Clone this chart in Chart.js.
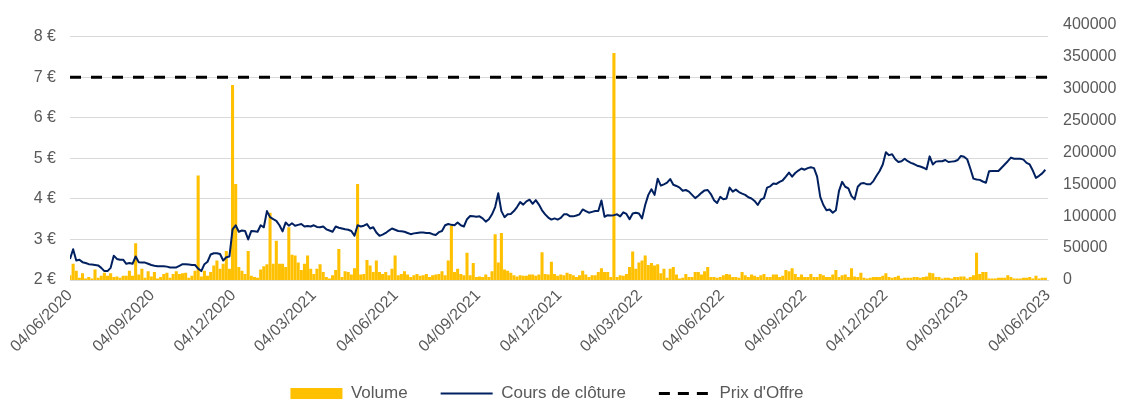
<!DOCTYPE html>
<html><head><meta charset="utf-8">
<script src="https://cdn.jsdelivr.net/npm/chart.js@4.4.0/dist/chart.umd.min.js"></script>
<style>html,body{margin:0;padding:0;background:#fff;overflow:hidden}#wrap{width:1126px;height:412px;position:relative}</style>
</head><body><div id="wrap"><canvas id="c" width="1126" height="412"></canvas></div>
<script>
const START_LABEL = '04/06/2020';
const STEP_DAYS = 3.5;
const tickLabels = ['04/06/2020','04/09/2020','04/12/2020','04/03/2021','04/06/2021','04/09/2021','04/12/2021','04/03/2022','04/06/2022','04/09/2022','04/12/2022','04/03/2023','04/06/2023'];
const priceTicks = [2,3,4,5,6,7,8];
const volumeTicks = [0,50000,100000,150000,200000,250000,300000,350000,400000];
const offerPrice = 7;
const closePrices = [
2.52,2.76,2.48,2.50,2.44,2.42,2.39,2.38,2.37,2.36,
2.30,2.22,2.22,2.30,2.60,2.52,2.50,2.50,2.40,2.42,
2.40,2.58,2.44,2.43,2.43,2.40,2.37,2.35,2.34,2.34,
2.34,2.33,2.31,2.31,2.31,2.35,2.39,2.39,2.38,2.37,
2.37,2.28,2.22,2.39,2.45,2.63,2.66,2.66,2.64,2.48,
2.56,2.58,3.25,3.35,3.19,3.22,3.21,3.00,3.21,3.20,
3.19,3.35,3.30,3.70,3.55,3.50,3.46,3.35,3.20,3.42,
3.34,3.40,3.34,3.36,3.38,3.32,3.33,3.32,3.35,3.31,
3.30,3.32,3.25,3.22,3.19,3.32,3.29,3.27,3.25,3.24,
3.21,3.09,3.35,3.32,3.34,3.38,3.27,3.30,3.17,3.09,
3.12,3.16,3.22,3.27,3.24,3.21,3.20,3.19,3.16,3.13,
3.15,3.16,3.17,3.17,3.16,3.16,3.13,3.11,3.18,3.21,
3.35,3.38,3.36,3.35,3.42,3.35,3.32,3.50,3.58,3.57,
3.56,3.57,3.52,3.44,3.50,3.62,3.80,4.14,3.70,3.55,
3.62,3.63,3.70,3.80,3.92,3.86,3.94,3.98,3.88,3.97,
3.86,3.72,3.62,3.54,3.49,3.52,3.49,3.53,3.62,3.62,
3.57,3.57,3.59,3.62,3.74,3.70,3.66,3.68,3.70,3.70,
3.96,3.56,3.60,3.59,3.60,3.62,3.57,3.67,3.63,3.50,
3.64,3.66,3.64,3.52,3.85,4.10,4.24,4.10,4.50,4.33,
4.36,4.40,4.49,4.35,4.32,4.28,4.20,4.22,4.18,4.10,
4.02,4.08,4.15,4.21,4.22,4.12,3.97,3.90,4.05,3.99,
4.01,4.28,4.18,4.23,4.17,4.13,4.10,4.04,4.01,3.95,
3.85,3.98,4.02,4.28,4.31,4.38,4.37,4.42,4.46,4.55,
4.65,4.55,4.64,4.70,4.75,4.72,4.76,4.78,4.76,4.55,
4.05,3.85,3.72,3.74,3.66,3.72,4.20,4.42,4.30,4.26,
4.07,3.99,4.30,4.38,4.39,4.36,4.36,4.44,4.57,4.69,
4.85,5.15,5.08,5.10,4.98,4.91,4.93,4.99,4.93,4.89,
4.86,4.82,4.80,4.77,4.73,5.05,4.85,4.92,4.93,4.93,
4.96,4.91,4.92,4.93,4.96,5.06,5.04,4.98,4.75,4.50,
4.48,4.47,4.43,4.40,4.68,4.69,4.69,4.69,4.77,4.85,
4.93,5.02,4.99,4.99,4.99,4.97,4.89,4.85,4.70,4.52,
4.57,4.63,4.72];
const volumes = [
7000,25000,14000,3000,10000,2000,4000,2000,16000,3000,
6000,11000,6000,10000,4000,5000,3000,6000,6000,14000,
6000,57000,8000,17000,3000,13000,5000,12000,2000,4000,
9000,11000,3000,9000,13000,9000,10000,11000,3000,6000,
14000,163000,5000,14000,6000,12000,22000,30000,17000,25000,
45000,17000,305000,150000,20000,14000,9000,45000,6000,4000,
3000,16000,21000,24000,105000,25000,61000,25000,25000,20000,
82000,39000,38000,27000,15000,25000,38000,17000,9000,17000,
24000,12000,4000,2000,7000,15000,48000,4000,13000,12000,
8000,18000,150000,8000,9000,31000,22000,12000,30000,12000,
9000,12000,7000,17000,38000,7000,9000,13000,8000,4000,
7000,9000,6000,7000,9000,4000,7000,8000,9000,13000,
7000,30000,85000,12000,17000,9000,7000,42000,7000,26000,
4000,5000,4000,8000,4000,13000,71000,27000,73000,16000,
14000,11000,7000,5000,7000,6000,6000,8000,8000,6000,
8000,43000,9000,8000,28000,9000,6000,8000,7000,11000,
9000,7000,4000,7000,14000,8000,4000,7000,7000,12000,
18000,12000,12000,4000,355000,4000,7000,6000,9000,20000,
44000,17000,27000,30000,38000,23000,26000,22000,24000,10000,
17000,3000,17000,20000,8000,2000,3000,9000,4000,4000,
12000,12000,8000,13000,20000,4000,4000,3000,4000,7000,
9000,8000,4000,4000,3000,12000,7000,4000,8000,6000,
4000,7000,9000,4000,4000,8000,8000,4000,6000,15000,
13000,18000,9000,4000,8000,4000,4000,9000,4000,4000,
9000,7000,4000,4000,8000,15000,4000,7000,8000,4000,
18000,5000,4000,11000,3000,2000,3000,4000,4000,4000,
6000,10000,4000,3000,4000,6000,2000,3000,3000,3000,
4000,4000,3000,4000,5000,11000,10000,4000,4000,2000,
3000,3000,2000,4000,4000,5000,5000,2000,4000,7000,
42000,9000,12000,12000,2000,2000,2000,3000,3000,3000,
7000,4000,2000,2000,2000,3000,3000,4000,2000,6000,
2000,3000,3000];

const seriesNames = ['Volume','Cours de clôture',"Prix d'Offre"];
const COLORS = {volume:'#FFC000', price:'#002060', offer:'#000000', text:'#595959', grid:'#D9D9D9'};
const FONT = '"Liberation Sans", Arial, sans-serif';

function dayOf(s){ const [d,m,y] = s.split('/').map(Number); const [d0,m0,y0] = START_LABEL.split('/').map(Number); return Math.round((Date.UTC(y,m-1,d) - Date.UTC(y0,m0-1,d0))/86400000); }
const tickDays = tickLabels.map(dayOf);
const labelByDay = {}; tickDays.forEach((d,i)=>{ labelByDay[d] = tickLabels[i]; });
const lastDay = tickDays[tickDays.length-1];

const legendShift = {
  id:'legendShift',
  afterLayout(chart){ if (chart.legend){ chart.legend.left -= 12; chart.legend.right -= 12; } }
};

const ctx = document.getElementById('c').getContext('2d');
new Chart(ctx, {
  type: 'bar',
  plugins:[legendShift],
  data: {
    datasets: [
      { type:'bar', label: seriesNames[0], data: volumes.map((v,i)=>({x:i*STEP_DAYS, y:v})), backgroundColor: COLORS.volume, borderWidth:0, barThickness:2.4, yAxisID:'yVol', order:3 },
      { type:'line', label: seriesNames[1], data: closePrices.map((v,i)=>({x:i*STEP_DAYS, y:v})), borderColor: COLORS.price, borderWidth:2, pointRadius:0, tension:0, borderJoinStyle:'round', yAxisID:'yPrice', order:2 },
      { type:'line', label: seriesNames[2], data: [{x:0,y:offerPrice},{x:lastDay,y:offerPrice}], borderColor: COLORS.offer, borderWidth:3, borderDash:[11,10], pointRadius:0, yAxisID:'yPrice', order:1 }
    ]
  },
  options: {
    responsive:false, animation:false, devicePixelRatio:1,
    layout:{ padding:{ top:22, left:0, right:0, bottom:0 } },
    plugins:{
      tooltip:{enabled:false},
      legend:{
        position:'bottom', fullSize:false,
        labels:{
          font:{family:FONT, size:17}, color:COLORS.text, padding:33,
          usePointStyle:true, pointStyleWidth:52, boxHeight:11,
          generateLabels: () => [
            {text:seriesNames[0], fillStyle:COLORS.volume, strokeStyle:COLORS.volume, lineWidth:0, pointStyle:'rect', hidden:false, datasetIndex:0, fontColor:COLORS.text},
            {text:seriesNames[1], fillStyle:COLORS.price, strokeStyle:COLORS.price, lineWidth:2, pointStyle:'line', hidden:false, datasetIndex:1, fontColor:COLORS.text},
            {text:seriesNames[2], fillStyle:COLORS.offer, strokeStyle:COLORS.offer, lineWidth:3, lineDash:[11,8], pointStyle:'line', hidden:false, datasetIndex:2, fontColor:COLORS.text}
          ]
        }
      }
    },
    scales:{
      x:{
        type:'linear', min:0, max:lastDay, offset:false,
        grid:{display:false, drawTicks:false},
        border:{display:true, color:COLORS.grid},
        ticks:{autoSkip:false, minRotation:45, maxRotation:45, color:COLORS.text, font:{family:FONT, size:16}, padding:6, callback:(v)=>labelByDay[v] || ''},
        afterBuildTicks:(s)=>{ s.ticks = tickDays.map(v=>({value:v})); },
        afterFit:(s)=>{ s.height = 412 - 60 - 280; }
      },
      yPrice:{
        type:'linear', position:'left', min:2, max:8.3,
        grid:{color:COLORS.grid, lineWidth:1, drawTicks:false},
        border:{display:false},
        ticks:{color:COLORS.text, font:{family:FONT, size:16}, padding:14, callback:(v)=>v + ' €'},
        afterBuildTicks:(s)=>{ s.ticks = priceTicks.map(v=>({value:v})); },
        afterFit:(s)=>{ s.width = 70; }
      },
      yVol:{
        type:'linear', position:'right', min:0, max:400000,
        grid:{display:false, drawTicks:false},
        border:{display:false},
        ticks:{color:COLORS.text, font:{family:FONT, size:16}, padding:15, callback:(v)=>String(v)},
        afterBuildTicks:(s)=>{ s.ticks = volumeTicks.map(v=>({value:v})); },
        afterFit:(s)=>{ s.width = 78; }
      }
    }
  }
});
</script>
</body></html>
